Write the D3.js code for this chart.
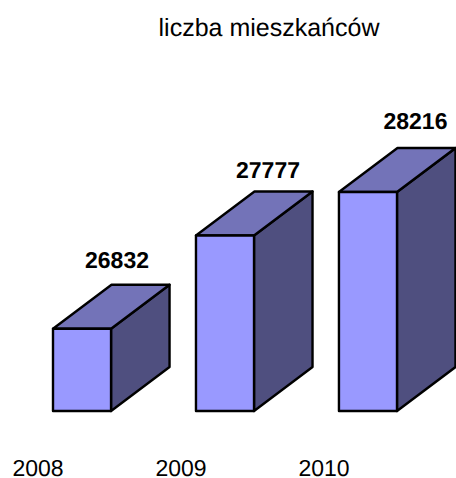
<!DOCTYPE html>
<html>
<head>
<meta charset="utf-8">
<title>liczba mieszkańców</title>
<script src="https://cdnjs.cloudflare.com/ajax/libs/d3/7.8.5/d3.min.js"></script>
<style>
  html, body { margin: 0; padding: 0; background: #fff; }
  svg { display: block; }
  text { font-family: "Liberation Sans", Arial, sans-serif; fill: #000; text-rendering: geometricPrecision; }
</style>
</head>
<body>
<script>
"use strict";

const years = ["2008", "2009", "2010"];
const residents = [26832, 27777, 28216];
const chartTitle = "liczba mieszkańców";

const WIDTH = 456;
const HEIGHT = 478;
const DEPTH_X = 58.5;
const DEPTH_Y = 44;
// the value labels are not placed evenly: shift from the bar centre and gap above the front face
const LABEL_DX = [35, 43, 47.5];
const LABEL_GAP = [60.8, 57.5, 63];

let svg = d3.select("body")
            .append("svg")
            .attr("width", WIDTH)
            .attr("height", HEIGHT);

let x = d3.scaleBand()
          .domain(years)
          .range([53, 397])
          .paddingInner(0.594)
          .paddingOuter(0);

let y = d3.scaleLinear()
          .domain([26000, 28500])
          .range([411, 164]);

svg.append("text")
   .attr("x", 269)
   .attr("y", 36)
   .attr("text-anchor", "middle")
   .attr("font-size", 25)
   .text(chartTitle);

let bars = svg.selectAll("g.bar")
              .data(years.map((year, i) => ({year: year, value: residents[i]})))
              .enter()
              .append("g")
              .attr("class", "bar")
              .attr("stroke", "#000")
              .attr("stroke-width", 2.4)
              .attr("stroke-linejoin", "round");

// side face
bars.append("path")
    .attr("fill", "#4f4f7f")
    .attr("d", (d) =>
    {
        let r = x(d.year) + x.bandwidth();
        return d3.line()([[r, y(d.value)], [r + DEPTH_X, y(d.value) - DEPTH_Y],
                          [r + DEPTH_X, y(26000) - DEPTH_Y], [r, y(26000)]]) + "Z";
    });

// top face
bars.append("path")
    .attr("fill", "#7373b8")
    .attr("d", (d) =>
    {
        let l = x(d.year);
        let r = l + x.bandwidth();
        return d3.line()([[l, y(d.value)], [l + DEPTH_X, y(d.value) - DEPTH_Y],
                          [r + DEPTH_X, y(d.value) - DEPTH_Y], [r, y(d.value)]]) + "Z";
    });

// front face
bars.append("rect")
    .attr("fill", "#9999ff")
    .attr("x", (d) => x(d.year))
    .attr("y", (d) => y(d.value))
    .attr("width", x.bandwidth())
    .attr("height", (d) => y(26000) - y(d.value));

svg.selectAll("text.value")
   .data(residents)
   .enter()
   .append("text")
   .attr("class", "value")
   .attr("x", (d, i) => x(years[i]) + x.bandwidth() / 2 + LABEL_DX[i])
   .attr("y", (d, i) => y(d) - LABEL_GAP[i])
   .attr("text-anchor", "middle")
   .attr("font-size", 23)
   .attr("font-weight", "bold")
   .text((d) => d);

let axis = svg.append("g")
              .attr("transform", "translate(-44,476)")
              .call(d3.axisBottom(x).tickSize(0).tickPadding(0));
axis.select(".domain").remove();
axis.selectAll("text")
    .attr("font-size", 23)
    .attr("dy", 0)
    .attr("y", 0)
    .style("font-family", "\"Liberation Sans\", Arial, sans-serif");
</script>
</body>
</html>
